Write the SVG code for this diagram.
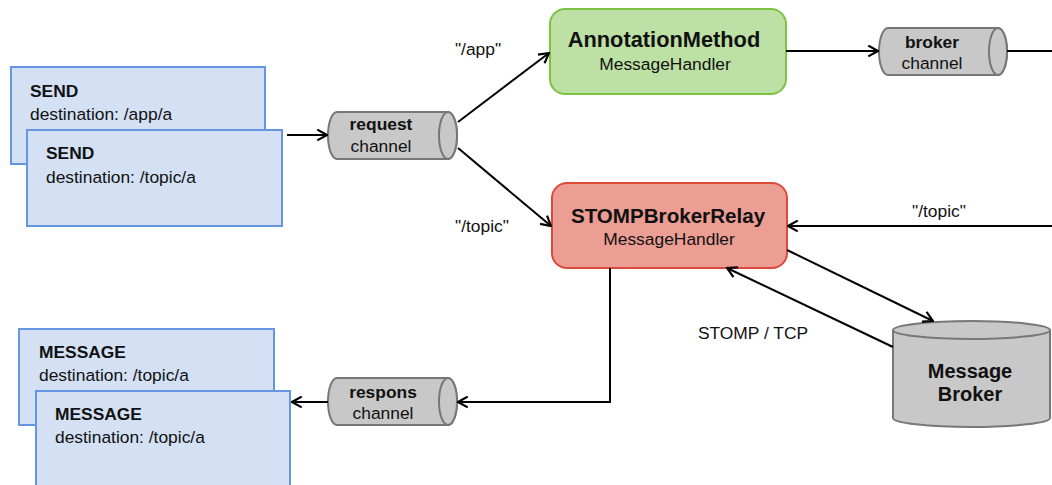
<svg xmlns="http://www.w3.org/2000/svg" width="1052" height="485" viewBox="0 0 1052 485">
  <style>
    text { font-family: "Liberation Sans", Arial, Helvetica, sans-serif; fill: #111; }
    .t { font-size: 17.4px; }
    .b { font-weight: bold; }
    .c { text-anchor: middle; }
    .h { font-size: 21px; font-weight: bold; }
    .frame { fill: #d4e1f5; stroke: #6496e4; stroke-width: 2; }
    .chan { fill: #c8c8c8; stroke: #777; stroke-width: 2; }
    .edge { fill: none; stroke: #000; stroke-width: 2; }
    .arrow { marker-end: url(#open); }
  </style>
  <defs>
    <marker id="open" markerUnits="userSpaceOnUse" viewBox="0 0 12 12" markerWidth="13" markerHeight="13" refX="11" refY="6" orient="auto">
      <path d="M2,1 L11,6 L2,11" fill="none" stroke="#000" stroke-width="2"/>
    </marker>
  </defs>
  <rect width="1052" height="485" fill="#fff"/>

  <!-- outgoing client frames -->
  <g id="send-app">
    <rect class="frame" x="11" y="67" width="254" height="97"/>
    <text class="t b" x="30" y="97">SEND</text>
    <text class="t" x="30" y="120">destination: /app/a</text>
  </g>
  <g id="send-topic">
    <rect class="frame" x="27" y="130" width="255" height="96"/>
    <text class="t b" x="46" y="159">SEND</text>
    <text class="t" x="46" y="183">destination: /topic/a</text>
  </g>

  <!-- channels -->
  <g id="request-channel">
    <path class="chan" d="M337,112 L448,112 A9,23.5 0 0 1 448,159 L337,159 A9,23.5 0 0 1 337,112 Z"/>
    <ellipse class="chan" cx="448" cy="135.5" rx="9" ry="23.5"/>
    <text class="t b c" x="381" y="130">request</text>
    <text class="t c" x="381" y="152">channel</text>
  </g>
  <g id="broker-channel">
    <path class="chan" d="M888,28 L998,28 A9,23.5 0 0 1 998,75 L888,75 A9,23.5 0 0 1 888,28 Z"/>
    <ellipse class="chan" cx="998" cy="51.5" rx="9" ry="23.5"/>
    <text class="t b c" x="932" y="48">broker</text>
    <text class="t c" x="932" y="69">channel</text>
  </g>
  <g id="response-channel">
    <path class="chan" d="M337,378 L448,378 A9,23.5 0 0 1 448,425 L337,425 A9,23.5 0 0 1 337,378 Z"/>
    <ellipse class="chan" cx="448" cy="401.5" rx="9" ry="23.5"/>
    <text class="t b c" x="383" y="398">respons</text>
    <text class="t c" x="383" y="419">channel</text>
  </g>

  <!-- handlers -->
  <g id="annotation-handler">
    <rect x="550" y="9" width="236" height="85" rx="15" fill="#bde0a5" stroke="#7dc243" stroke-width="2"/>
    <text class="h c" style="font-size:21.8px" x="664" y="47">AnnotationMethod</text>
    <text class="t c" x="665" y="70">MessageHandler</text>
  </g>
  <g id="broker-relay">
    <rect x="552" y="183" width="235" height="85" rx="15" fill="#ec9d94" stroke="#dc4a3c" stroke-width="2"/>
    <text class="h c" style="font-size:20.6px" x="668" y="223">STOMPBrokerRelay</text>
    <text class="t c" x="669" y="245">MessageHandler</text>
  </g>

  <!-- external broker -->
  <g id="message-broker">
    <path class="chan" d="M893,330 A78.5,9 0 0 1 1050,330 L1050,418 A78.5,9 0 0 1 893,418 Z"/>
    <path fill="none" stroke="#777" stroke-width="2" d="M893,330 A78.5,9 0 0 0 1050,330"/>
    <text class="c b" style="font-size:20px" x="970" y="378">Message</text>
    <text class="c b" style="font-size:20px" x="970" y="401">Broker</text>
  </g>

  <!-- incoming client frames -->
  <g id="message-1">
    <rect class="frame" x="19" y="329" width="255" height="96"/>
    <text class="t b" x="39" y="358">MESSAGE</text>
    <text class="t" x="39" y="381">destination: /topic/a</text>
  </g>
  <g id="message-2">
    <rect class="frame" x="36" y="391" width="254" height="100"/>
    <text class="t b" x="55" y="420">MESSAGE</text>
    <text class="t" x="55" y="443">destination: /topic/a</text>
  </g>

  <!-- connectors -->
  <g id="connectors">
    <line class="edge arrow" x1="287" y1="135" x2="327" y2="135"/>
    <line class="edge arrow" x1="458" y1="122" x2="549" y2="53"/>
    <line class="edge arrow" x1="458" y1="148" x2="551" y2="226"/>
    <line class="edge arrow" x1="786" y1="51" x2="878" y2="51"/>
    <line class="edge" x1="1007" y1="51" x2="1052" y2="51"/>
    <line class="edge arrow" x1="1052" y1="226" x2="788" y2="226"/>
    <line class="edge arrow" x1="787" y1="250" x2="933" y2="321"/>
    <line class="edge arrow" x1="893" y1="347" x2="727" y2="268"/>
    <polyline class="edge arrow" points="610,268 610,402 458,402"/>
    <line class="edge arrow" x1="328" y1="402" x2="292" y2="402"/>
    <text class="t c" x="478" y="55">"/app"</text>
    <text class="t c" x="482" y="232">"/topic"</text>
    <text class="t c" x="939" y="217">"/topic"</text>
    <text class="t c" x="753" y="339">STOMP / TCP</text>
  </g>
</svg>
